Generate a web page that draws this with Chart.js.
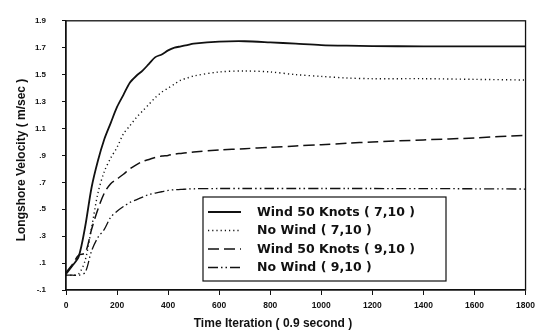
<!DOCTYPE html>
<html>
<head>
<meta charset="utf-8">
<script src="https://cdn.jsdelivr.net/npm/chart.js@4.4.1/dist/chart.umd.min.js"></script>
<style>
  html, body { margin: 0; padding: 0; background: #fff; }
  #wrap { width: 541px; height: 336px; }
</style>
</head>
<body>
<div id="wrap"><canvas id="velChart" width="541" height="336"></canvas></div>
<script>
// iteration steps shared by all runs
const iterations = [0, 25, 50, 75, 100, 125, 150, 175, 200, 225, 250, 275, 300, 325, 350, 375, 400, 425, 450, 475, 500,
  600, 700, 800, 900, 1000, 1100, 1200, 1400, 1600, 1800];

// longshore velocity (m/sec) per run
const wind50_7_10 = [0.02, 0.08, 0.15, 0.37, 0.66, 0.86, 1.02, 1.14, 1.26, 1.35, 1.44, 1.49, 1.53, 1.58, 1.63, 1.65, 1.68, 1.70, 1.71, 1.72, 1.73,
  1.745, 1.748, 1.74, 1.73, 1.72, 1.715, 1.712, 1.71, 1.71, 1.71];
const noWind_7_10 = [0.01, 0.01, 0.02, 0.12, 0.36, 0.62, 0.78, 0.88, 0.96, 1.06, 1.12, 1.18, 1.23, 1.28, 1.33, 1.37, 1.40, 1.43, 1.46, 1.475, 1.49,
  1.52, 1.527, 1.52, 1.50, 1.487, 1.475, 1.47, 1.47, 1.465, 1.46];
const wind50_9_10 = [0.03, 0.09, 0.16, 0.175, 0.35, 0.50, 0.62, 0.69, 0.725, 0.76, 0.80, 0.83, 0.855, 0.87, 0.885, 0.895, 0.90, 0.91, 0.915, 0.92, 0.925,
  0.94, 0.95, 0.96, 0.97, 0.98, 0.99, 1.0, 1.015, 1.03, 1.05];
const noWind_9_10 = [0.01, 0.01, 0.01, 0.03, 0.19, 0.29, 0.35, 0.44, 0.485, 0.52, 0.55, 0.57, 0.59, 0.61, 0.62, 0.63, 0.64, 0.645, 0.647, 0.65, 0.652,
  0.654, 0.654, 0.654, 0.654, 0.654, 0.654, 0.654, 0.653, 0.652, 0.65];

const seriesLabels = ['Wind 50 Knots ( 7,10 )', 'No Wind ( 7,10 )', 'Wind 50 Knots ( 9,10 )', 'No Wind ( 9,10 )'];
const yTicks = [-0.1, 0.1, 0.3, 0.5, 0.7, 0.9, 1.1, 1.3, 1.5, 1.7, 1.9];
const xTitle = 'Time Iteration ( 0.9 second )';
const yTitle = 'Longshore Velocity ( m/sec )';

const FONT = '"Liberation Sans", Arial, sans-serif';
const WIDE = '"DejaVu Sans", "Liberation Sans", sans-serif';

function pts(values) {
  return iterations.map((x, i) => ({ x, y: values[i] }));
}

const styles = [
  { borderWidth: 1.8, borderDash: [] },
  { borderWidth: 1.4, borderDash: [1.2, 3] },
  { borderWidth: 1.5, borderDash: [11, 5] },
  { borderWidth: 1.3, borderDash: [10, 3, 1.5, 3, 1.5, 3] }
];

const datasets = [wind50_7_10, noWind_7_10, wind50_9_10, noWind_9_10].map((vals, i) => ({
  label: seriesLabels[i],
  data: pts(vals),
  borderColor: '#111',
  borderWidth: styles[i].borderWidth,
  borderDash: styles[i].borderDash,
  pointRadius: 0,
  tension: 0.3,
  fill: false
}));

// frame, axis titles and the boxed legend
const decor = {
  id: 'decor',
  afterDraw(chart) {
    const { ctx, chartArea: a } = chart;
    ctx.save();
    ctx.strokeStyle = '#111';
    ctx.lineWidth = 1.3;
    ctx.strokeRect(a.left, a.top, a.right - a.left, a.bottom - a.top);

    ctx.fillStyle = '#111';
    ctx.font = 'bold 12px ' + FONT;
    ctx.textAlign = 'center';
    ctx.textBaseline = 'middle';
    ctx.fillText(xTitle, 273, 324);

    ctx.save();
    ctx.translate(22, 160);
    ctx.rotate(-Math.PI / 2);
    ctx.fillText(yTitle, 0, 0);
    ctx.restore();

    // legend
    const box = { left: 203, top: 197, right: 446, bottom: 281 };
    ctx.fillStyle = '#fff';
    ctx.fillRect(box.left, box.top, box.right - box.left, box.bottom - box.top);
    ctx.lineWidth = 1.2;
    ctx.strokeRect(box.left, box.top, box.right - box.left, box.bottom - box.top);
    ctx.font = 'bold 12.5px ' + WIDE;
    ctx.textAlign = 'left';
    ctx.fillStyle = '#111';
    chart.data.datasets.forEach((ds, i) => {
      const y = 212 + i * 18.5;
      ctx.beginPath();
      ctx.setLineDash(ds.borderDash);
      ctx.lineWidth = ds.borderWidth;
      ctx.moveTo(208, y);
      ctx.lineTo(241, y);
      ctx.stroke();
      ctx.setLineDash([]);
      ctx.fillText(ds.label, 257, y + 0.5);
    });
    ctx.restore();
  }
};

new Chart(document.getElementById('velChart'), {
  type: 'line',
  data: { datasets },
  options: {
    responsive: false,
    devicePixelRatio: 1,
    animation: false,
    layout: { padding: { top: 11, right: 14, left: 0, bottom: 0 } },
    plugins: { legend: { display: false }, tooltip: { enabled: false } },
    scales: {
      x: {
        type: 'linear',
        min: 0,
        max: 1800,
        afterFit(s) { s.height = 46; },
        ticks: {
          stepSize: 200,
          color: '#111',
          padding: 6,
          maxRotation: 0,
          font: { family: FONT, size: 8.5, weight: 'bold' },
          callback: v => String(v)
        },
        grid: { drawOnChartArea: false, drawTicks: true, tickLength: 5, color: '#111' },
        border: { display: true, color: '#111', width: 1.3 }
      },
      y: {
        min: -0.1,
        max: 1.9,
        afterFit(s) { s.width = 66; },
        afterBuildTicks(s) { s.ticks = yTicks.map(v => ({ value: v })); },
        ticks: {
          color: '#111',
          padding: 16,
          font: { family: FONT, size: 8, weight: 'bold' },
          callback: v => {
            const t = Number(v).toFixed(1);
            return t.replace(/^0\./, '.').replace(/^-0\./, '-.');
          }
        },
        grid: { drawOnChartArea: false, drawTicks: true, tickLength: 4, color: '#111' },
        border: { display: true, color: '#111', width: 1.3 }
      }
    }
  },
  plugins: [decor]
});
</script>
</body>
</html>
